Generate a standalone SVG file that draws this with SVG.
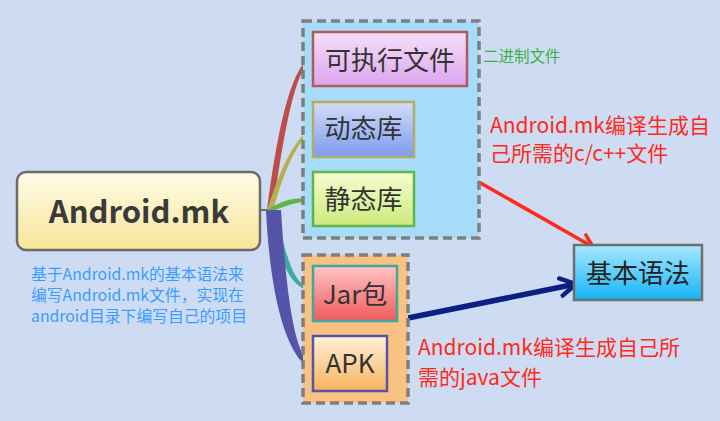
<svg xmlns="http://www.w3.org/2000/svg" width="720" height="421" viewBox="0 0 720 421">
<defs>
<linearGradient id="gMain" x1="0" y1="0" x2="0" y2="1"><stop offset="0" stop-color="#fefbe6"/><stop offset="1" stop-color="#f7e69a"/></linearGradient>
<linearGradient id="gExe" x1="0" y1="0" x2="0" y2="1"><stop offset="0" stop-color="#f6e0f8"/><stop offset="1" stop-color="#dca4ee"/></linearGradient>
<linearGradient id="gDyn" x1="0" y1="0" x2="0" y2="1"><stop offset="0" stop-color="#d4dcf8"/><stop offset="1" stop-color="#7c9cf0"/></linearGradient>
<linearGradient id="gSta" x1="0" y1="0" x2="0" y2="1"><stop offset="0" stop-color="#f6fcd0"/><stop offset="1" stop-color="#cdea7c"/></linearGradient>
<linearGradient id="gJar" x1="0" y1="0" x2="0" y2="1"><stop offset="0" stop-color="#ffc4c4"/><stop offset="1" stop-color="#f05a5a"/></linearGradient>
<linearGradient id="gApk" x1="0" y1="0" x2="0" y2="1"><stop offset="0" stop-color="#fff2dc"/><stop offset="1" stop-color="#f8b25c"/></linearGradient>
<linearGradient id="gBas" x1="0" y1="0" x2="0" y2="1"><stop offset="0" stop-color="#a8e8ff"/><stop offset="1" stop-color="#14b4f6"/></linearGradient>
<marker id="mRed" viewBox="0 0 10 10" refX="8" refY="5" markerWidth="5" markerHeight="5" orient="auto" markerUnits="strokeWidth">
<path d="M1,1 L8,5 L1,9" fill="none" stroke="#ff2a1a" stroke-width="2" stroke-linecap="round" stroke-linejoin="round"/>
</marker>
<marker id="mBlue" viewBox="0 0 10 10" refX="8" refY="5" markerWidth="4" markerHeight="4" orient="auto" markerUnits="strokeWidth">
<path d="M1,1 L8,5 L1,9" fill="none" stroke="#0c1f82" stroke-width="2" stroke-linecap="round" stroke-linejoin="round"/>
</marker>
</defs>
<style>
.t{font-family:"Noto Sans CJK SC","Microsoft YaHei",sans-serif;}
.box{stroke-width:2.5;}
.grp{stroke:#7f7f7f;stroke-width:3.5;stroke-dasharray:9 5;}
.lbl{font-size:26px;fill:#333333;}
.red{font-size:21px;fill:#ff2a1a;}
</style>
<rect width="720" height="421" fill="#cddcf2"/>

<g id="connectors">
<line x1="260" y1="210" x2="272" y2="210" stroke="#6b6b6b" stroke-width="2"/>
<path d="M267,210 C276,140 288,80 305,62 L305,67 C292,86 282,145 273,210 Z" fill="#bd4d4d"/>
<path d="M267,211 C278,175 290,148 305,133 L305,138 C292,152 282,178 273,211 Z" fill="#b3b04e"/>
<path d="M266,211 C280,201 292,198 305,198 L305,202 C292,203 282,207 268,213 Z" fill="#5db54c"/>
<path d="M268,212 C280,262 290,284 305,289 L305,286 C294,280 286,258 276,212 Z" fill="#3fa8a0"/>
<path d="M266,210 C270,292 284,346 305,365 L305,358 C293,340 286,290 281,210 Z" fill="#5654a8"/>
<line x1="477" y1="181" x2="593" y2="247" stroke="#ff2a1a" stroke-width="3.5" marker-end="url(#mRed)"/>
<line x1="408" y1="318" x2="576" y2="284" stroke="#0c1f82" stroke-width="5.5" marker-end="url(#mBlue)"/>
</g>

<g id="android-mk">
<rect x="17" y="172" width="243" height="78" rx="9" fill="url(#gMain)" stroke="#6b6b6b" stroke-width="2.5"/>
<text class="t" x="139" y="223" text-anchor="middle" font-size="31" font-weight="bold" fill="#3a3a3a">Android.mk</text>
</g>

<g id="note-left">
<text class="t" font-size="15.8" fill="#3a9cff">
<tspan x="31" y="280">基于Android.mk的基本语法来</tspan>
<tspan x="31" y="301">编写Android.mk文件，实现在</tspan>
<tspan x="31" y="322">android目录下编写自己的项目</tspan>
</text>
</g>

<g id="group-native">
<rect class="grp" x="303" y="21" width="176" height="217" fill="#a6dcf8"/>
</g>

<g id="exe">
<rect class="box" x="313" y="32" width="154" height="54" fill="url(#gExe)" stroke="#b25a5a"/>
<text class="t lbl" x="390" y="70" text-anchor="middle">可执行文件</text>
</g>
<g id="binary-note">
<text class="t" x="483" y="62" font-size="15.5" fill="#3cb043">二进制文件</text>
</g>

<g id="dynamic-lib">
<rect class="box" x="313" y="102" width="101" height="55" fill="url(#gDyn)" stroke="#b3ab66"/>
<text class="t lbl" x="363.5" y="138" text-anchor="middle">动态库</text>
</g>

<g id="static-lib">
<rect class="box" x="313" y="172" width="101" height="54" fill="url(#gSta)" stroke="#5db54c"/>
<text class="t lbl" x="363.5" y="209" text-anchor="middle">静态库</text>
</g>

<g id="note-native">
<text class="t red">
<tspan x="490" y="133">Android.mk编译生成自</tspan>
<tspan x="490" y="161">己所需的c/c++文件</tspan>
</text>
</g>

<g id="group-java">
<rect class="grp" x="303" y="255" width="105" height="148" fill="#f8c282"/>
</g>

<g id="jar">
<rect class="box" x="313" y="266" width="84" height="55" fill="url(#gJar)" stroke="#3fa8a0"/>
<text class="t lbl" x="355" y="304" text-anchor="middle">Jar包</text>
</g>

<g id="apk">
<rect class="box" x="313" y="336" width="74" height="55" fill="url(#gApk)" stroke="#5654a8"/>
<text class="t lbl" x="350" y="373" text-anchor="middle">APK</text>
</g>

<g id="note-java">
<text class="t red">
<tspan x="418" y="355">Android.mk编译生成自己所</tspan>
<tspan x="418" y="385">需的java文件</tspan>
</text>
</g>

<g id="basic-syntax">
<rect x="574" y="245" width="128" height="55" fill="url(#gBas)" stroke="#6f6f6f" stroke-width="2.5"/>
<text class="t" x="638" y="283" text-anchor="middle" font-size="26" fill="#222222">基本语法</text>
</g>
</svg>
